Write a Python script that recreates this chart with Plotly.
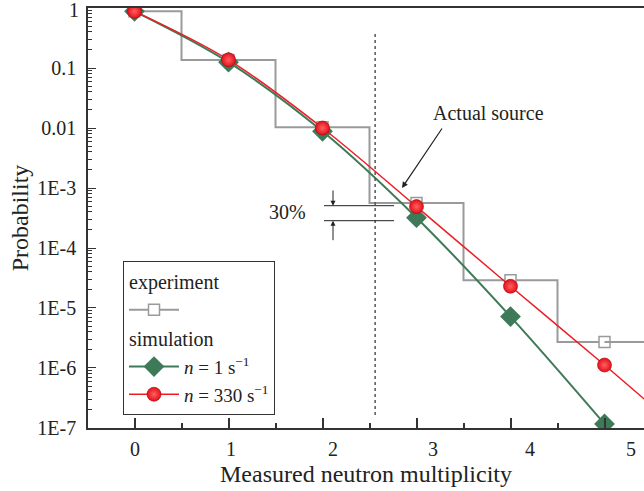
import plotly.graph_objects as go

# ---- data ----
multiplicity = [0, 1, 2, 3, 4, 5]
experiment = [0.88, 0.136, 0.0103, 5.6e-4, 2.9e-5, 2.7e-6]
sim_n1_x = [0, 1, 2, 3, 4, 5]
sim_n1 = [0.88, 0.125, 0.0088, 3.2e-4, 7.2e-6, 1.17e-7]
sim_n330_x = [0, 1, 2, 3, 4, 5, 6]
sim_n330 = [0.88, 0.137, 0.0100, 4.9e-4, 2.3e-5, 1.12e-6, 5.0e-8]
x_tick_labels = ["0", "1", "2", "3", "4", "5"]
x_label_pos = [0.005, 1.027, 2.11, 3.175, 4.21, 5.28]
y_tick_vals = [1, 0.1, 0.01, 1e-3, 1e-4, 1e-5, 1e-6, 1e-7]
y_tick_text = ["1", "0.1", "0.01", "1E-3", "1E-4", "1E-5", "1E-6", "1E-7"]
source_x = 2.56

FONT = "Liberation Serif"
GRAY = "#9a9a9a"
GREEN = "#3e7a57"
RED = "#ee1c24"
AX = "#333333"

W, H = 644, 491
ML, MR, MT, MB = 88, 0, 8, 63
PW, PH = W - ML - MR, H - MT - MB


def px(x):
    return (x - ML) / PW


def py(y):
    return (H - MB - y) / PH


minor_y = [m * 10.0 ** e for e in range(-7, 0) for m in range(2, 10)]
YR = [-7.0005, 0.0005]

fig = go.Figure()

# helper (empty) trace so that the minor-tick axis is rendered
fig.add_trace(go.Scatter(x=[None], y=[None], yaxis="y2", showlegend=False, hoverinfo="skip"))

fig.add_trace(go.Scatter(
    x=multiplicity, y=experiment, mode="lines+markers", line_shape="hvh",
    line=dict(color=GRAY, width=2),
    marker=dict(symbol="square", size=11, color="white", line=dict(color=GRAY, width=1.5)),
    name=" ", legendgroup="exp", legendgrouptitle_text="experiment",
))
# tail of the last experimental bin
fig.add_trace(go.Scatter(
    x=[multiplicity[-1], multiplicity[-1] + 0.5], y=[experiment[-1]] * 2, mode="lines",
    line=dict(color=GRAY, width=2), showlegend=False, hoverinfo="skip",
))
fig.add_trace(go.Scatter(
    x=sim_n1_x, y=sim_n1, mode="lines+markers", line_shape="spline",
    line=dict(color=GREEN, width=2),
    marker=dict(symbol="diamond", size=16, color=GREEN),
    name="<i>n</i> = 1 s<sup>\u22121</sup>", legendgroup="sim", legendgrouptitle_text="simulation",
))
fig.add_trace(go.Scatter(
    x=sim_n330_x, y=sim_n330, mode="lines+markers", line_shape="spline",
    line=dict(color=RED, width=1.5),
    marker=dict(symbol="circle", size=14, color="#e3101a",
                gradient=dict(type="radial", color="#ff6060"),
                line=dict(width=0.6, color="#b00010")),
    name="<i>n</i> = 330 s<sup>\u22121</sup>", legendgroup="sim",
))

xr = [(ML - (ML + 46.5)) / 94.0, (W - (ML + 46.5)) / 94.0]

fig.update_layout(
    width=W, height=H, margin=dict(l=ML, r=MR, t=MT, b=MB),
    paper_bgcolor="white", plot_bgcolor="white",
    font=dict(family=FONT, size=20, color="#222"),
    showlegend=True,
    legend=dict(x=px(123), y=py(261), xanchor="left", yanchor="top",
                bordercolor=AX, borderwidth=1, bgcolor="white",
                font=dict(family=FONT, size=19), itemwidth=50, tracegroupgap=0,
                grouptitlefont=dict(family=FONT, size=20)),
    xaxis=dict(range=xr, showgrid=False, zeroline=False, showline=True, linecolor=AX,
               linewidth=1.5, mirror=True, ticks="inside", ticklen=10, tickcolor=AX,
               tickwidth=1.5, dtick=1, tick0=0, showticklabels=False,
               minor=dict(ticks="inside", ticklen=5, dtick=0.5, tick0=0, tickcolor=AX),
               title=dict(text="Measured neutron multiplicity", standoff=36)),
    yaxis=dict(type="log", range=YR, showgrid=False, zeroline=False, showline=True,
               linecolor=AX, linewidth=1.5, ticks="inside", ticklen=8, tickcolor=AX,
               tickwidth=1.2, tickvals=y_tick_vals, ticktext=[""] + y_tick_text[1:],
               ticklabelstandoff=6,
               title=dict(text="Probability", standoff=2)),
    yaxis2=dict(type="log", range=YR, overlaying="y", anchor="x", side="left",
                showgrid=False, zeroline=False, showline=False, ticks="inside", ticklen=4,
                tickcolor=AX, tickwidth=1, tickmode="array", tickvals=minor_y,
                showticklabels=False),
)

shapes = [
    dict(type="line", xref="x", yref="paper", x0=source_x, x1=source_x, y0=py(415), y1=py(33),
         line=dict(color="#555", width=1.5, dash="dot")),
    dict(type="line", xref="paper", yref="paper", x0=px(324), x1=px(394), y0=py(205.7), y1=py(205.7),
         line=dict(color="#222", width=1)),
    dict(type="line", xref="paper", yref="paper", x0=px(324), x1=px(394), y0=py(220.7), y1=py(220.7),
         line=dict(color="#222", width=1)),
]
fig.update_layout(shapes=shapes)

anns = [
    dict(text="Actual source", xref="paper", yref="paper", x=px(488), y=py(113), showarrow=False,
         xanchor="center", yanchor="middle", font=dict(family=FONT, size=20, color="#222")),
    dict(text="", xref="paper", yref="paper", x=px(402), y=py(188), ax=443 - 402, ay=127 - 188,
         showarrow=True, arrowhead=2, arrowsize=1, arrowwidth=1.2, arrowcolor="#222"),
    dict(text="30%", xref="paper", yref="paper", x=px(287), y=py(212), showarrow=False,
         xanchor="center", yanchor="middle", font=dict(family=FONT, size=20, color="#222")),
    dict(text="", xref="paper", yref="paper", x=px(333), y=py(205.7), ax=0, ay=189 - 205.7,
         showarrow=True, arrowhead=2, arrowsize=1, arrowwidth=1, arrowcolor="#222"),
    dict(text="", xref="paper", yref="paper", x=px(333), y=py(220.7), ax=0, ay=241.7 - 220.7,
         showarrow=True, arrowhead=2, arrowsize=1, arrowwidth=1, arrowcolor="#222"),
    dict(text=y_tick_text[0], xref="paper", yref="paper", x=px(81), y=py(10), showarrow=False,
         xanchor="right", yanchor="middle", font=dict(family=FONT, size=20, color="#222")),
]
for pos, lab in zip(x_label_pos, x_tick_labels):
    anns.append(dict(text=lab, xref="x", yref="paper", x=pos, y=py(449), showarrow=False,
                     xanchor="center", yanchor="middle", font=dict(family=FONT, size=20, color="#222")))
fig.update_layout(annotations=anns)

fig.write_html("out.html")
